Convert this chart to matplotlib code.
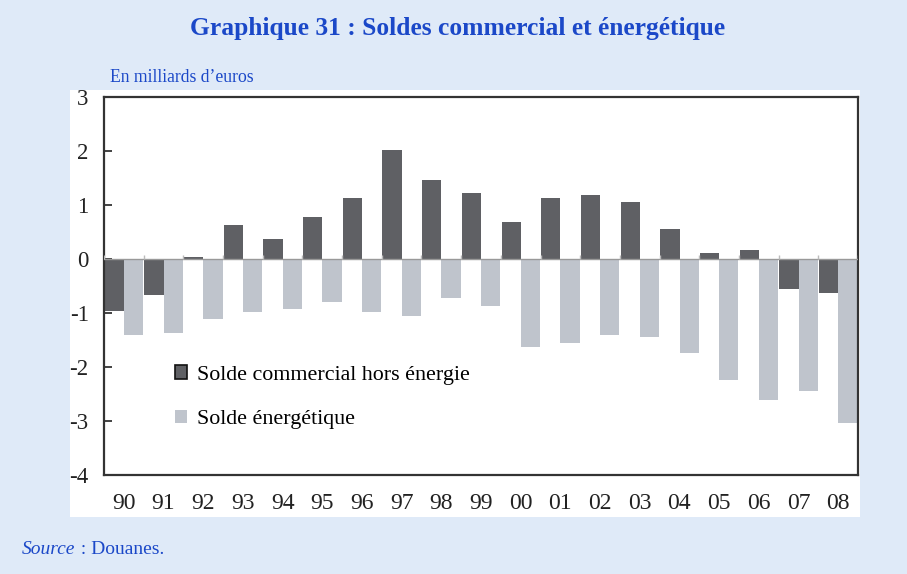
import numpy as np
import matplotlib
matplotlib.use('Agg')
import matplotlib.pyplot as plt
from matplotlib.patches import Rectangle, Patch

plt.rcParams['font.family'] = ['Liberation Serif', 'DejaVu Serif']

years = ['90', '91', '92', '93', '94', '95', '96', '97', '98', '99',
         '00', '01', '02', '03', '04', '05', '06', '07', '08']
# solde commercial hors energie (Mds EUR)
commercial = [-0.96, -0.66, 0.04, 0.63, 0.37, 0.78, 1.13, 2.02, 1.46, 1.22,
              0.69, 1.13, 1.19, 1.06, 0.56, 0.11, 0.17, -0.56, -0.63]
# solde energetique
energie = [-1.40, -1.37, -1.11, -0.98, -0.93, -0.80, -0.98, -1.06, -0.72, -0.87,
           -1.63, -1.55, -1.41, -1.44, -1.74, -2.24, -2.61, -2.44, -3.04]

blue = '#1b48c8'
dark = '#5f6064'
light = '#bfc4cc'
bg = '#dfeaf8'

fig = plt.figure(figsize=(9.07, 5.74), dpi=100)
fig.patch.set_facecolor(bg)
# panneau blanc derriere le graphique
fig.patches.append(Rectangle((70 / 907, 1 - 517 / 574), 790 / 907, 427 / 574,
                             transform=fig.transFigure, facecolor='white',
                             edgecolor='none', zorder=-1))

ax = fig.add_axes([104 / 907, 1 - 475 / 574, 754 / 907, 378 / 574])
ax.set_facecolor('white')

x = np.arange(len(years))
w = 0.485
ax.bar(x - 0.24, commercial, width=w, color=dark, zorder=2)
ax.bar(x + 0.245, energie, width=w, color=light, zorder=2)

ax.axhline(0, color='#999999', lw=1.0, zorder=3)
# petits traits entre les annees sur l'axe zero
ax.vlines(np.arange(len(years) + 1) - 0.5, 0, 0.07, color='#bbbbbb', lw=1.0, zorder=3)

ax.set_xlim(-0.5, len(years) - 0.5)
ax.set_ylim(-4, 3)
ax.set_xticks(x)
ax.set_xticklabels(years)
ax.set_yticks(range(-4, 4))
ax.set_yticklabels([str(v) if v >= 0 else '-' + str(-v) for v in range(-4, 4)])
ax.tick_params(axis='x', length=0, pad=13, labelsize=17, colors='#222222')
ax.tick_params(axis='y', direction='in', length=6, width=1.2, pad=11,
               labelsize=16.5, colors='#222222')
for s in ax.spines.values():
    s.set_linewidth(1.6)
    s.set_color('#333333')

handles = [Patch(facecolor=dark, edgecolor='#111111', lw=1.2),
           Patch(facecolor=light, edgecolor='none')]
ax.legend(handles, ['Solde commercial hors énergie', 'Solde énergétique'],
          loc='upper left', bbox_to_anchor=(0.094, 0.29), frameon=False,
          fontsize=15.8, handlelength=0.55, handleheight=0.55, handletextpad=0.45,
          labelspacing=1.15, borderpad=0, borderaxespad=0)

fig.text(458 / 907, 1 - 29 / 574, 'Graphique 31 : Soldes commercial et énergétique',
         ha='center', va='center', fontsize=18.4, fontweight='bold', color=blue)
fig.text(110 / 907, 1 - 78 / 574, 'En milliards d\u2019euros', ha='left', va='center',
         fontsize=12.7, color=blue)
t = fig.text(22 / 907, 1 - 549 / 574, 'Source', ha='left', va='center',
             fontsize=14, style='italic', color=blue)
fig.canvas.draw()
bb = t.get_window_extent()
fig.text((bb.x1 + 1) / 907, 1 - 549 / 574, ' : Douanes.', ha='left', va='center',
         fontsize=14, color=blue)

fig.savefig('out.png', dpi=100, facecolor=bg)
